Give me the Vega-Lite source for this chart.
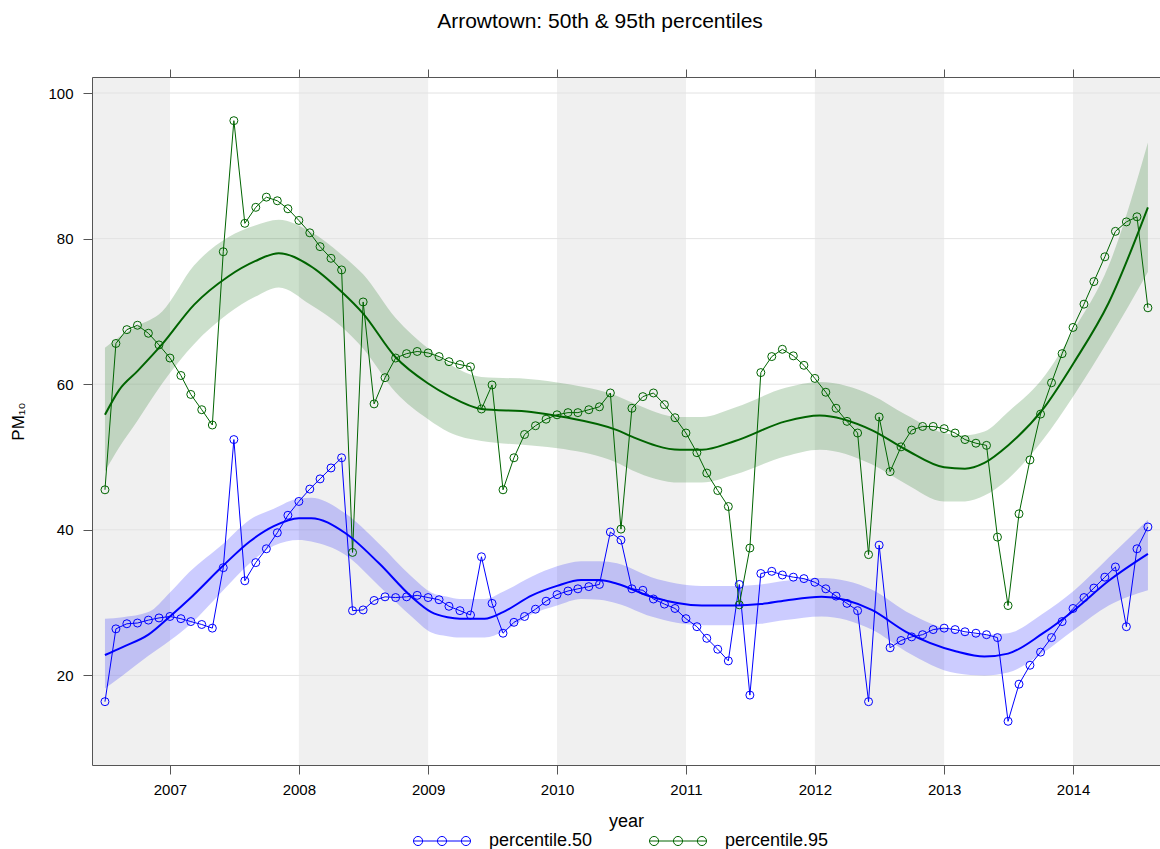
{
"$schema": "https://vega.github.io/schema/vega-lite/v6.json",
"width": 1068, "height": 688,
"autosize": {"type": "none"},
"padding": {"left": 92, "top": 77, "right": 0, "bottom": 84},
"background": "white",
"title": {"text": "Arrowtown: 50th & 95th percentiles", "fontSize": 21, "fontWeight": "normal", "color": "black", "font": "Liberation Sans", "anchor": "middle", "frame": "group", "dx": -26, "offset": 37},
"config": {"view": {"stroke": null}, "font": "Liberation Sans"},
"resolve": {"axis": {"x": "independent"}, "legend": {"color": "independent"}},
"datasets": {
"bands": [
{"start": "2006-01-01", "end": "2007-01-01"},
{"start": "2008-01-01", "end": "2009-01-01"},
{"start": "2010-01-01", "end": "2011-01-01"},
{"start": "2012-01-01", "end": "2013-01-01"},
{"start": "2014-01-01", "end": "2015-01-01"}
],
"grid": [{"v": 20}, {"v": 40}, {"v": 60}, {"v": 80}, {"v": 100}],
"raw": [
{"date":"2006-07-01","series":"percentile.50","value":16.4},
{"date":"2006-08-01","series":"percentile.50","value":26.4},
{"date":"2006-09-01","series":"percentile.50","value":27.1},
{"date":"2006-10-01","series":"percentile.50","value":27.2},
{"date":"2006-11-01","series":"percentile.50","value":27.6},
{"date":"2006-12-01","series":"percentile.50","value":27.9},
{"date":"2007-01-01","series":"percentile.50","value":28.1},
{"date":"2007-02-01","series":"percentile.50","value":27.8},
{"date":"2007-03-01","series":"percentile.50","value":27.4},
{"date":"2007-04-01","series":"percentile.50","value":27.0},
{"date":"2007-05-01","series":"percentile.50","value":26.5},
{"date":"2007-06-01","series":"percentile.50","value":34.8},
{"date":"2007-07-01","series":"percentile.50","value":52.4},
{"date":"2007-08-01","series":"percentile.50","value":33.0},
{"date":"2007-09-01","series":"percentile.50","value":35.5},
{"date":"2007-10-01","series":"percentile.50","value":37.4},
{"date":"2007-11-01","series":"percentile.50","value":39.6},
{"date":"2007-12-01","series":"percentile.50","value":42.0},
{"date":"2008-01-01","series":"percentile.50","value":43.9},
{"date":"2008-02-01","series":"percentile.50","value":45.6},
{"date":"2008-03-01","series":"percentile.50","value":47.0},
{"date":"2008-04-01","series":"percentile.50","value":48.5},
{"date":"2008-05-01","series":"percentile.50","value":49.9},
{"date":"2008-06-01","series":"percentile.50","value":28.9},
{"date":"2008-07-01","series":"percentile.50","value":29.0},
{"date":"2008-08-01","series":"percentile.50","value":30.3},
{"date":"2008-09-01","series":"percentile.50","value":30.8},
{"date":"2008-10-01","series":"percentile.50","value":30.7},
{"date":"2008-11-01","series":"percentile.50","value":30.8},
{"date":"2008-12-01","series":"percentile.50","value":31.0},
{"date":"2009-01-01","series":"percentile.50","value":30.7},
{"date":"2009-02-01","series":"percentile.50","value":30.4},
{"date":"2009-03-01","series":"percentile.50","value":29.5},
{"date":"2009-04-01","series":"percentile.50","value":28.9},
{"date":"2009-05-01","series":"percentile.50","value":28.3},
{"date":"2009-06-01","series":"percentile.50","value":36.3},
{"date":"2009-07-01","series":"percentile.50","value":29.9},
{"date":"2009-08-01","series":"percentile.50","value":25.8},
{"date":"2009-09-01","series":"percentile.50","value":27.3},
{"date":"2009-10-01","series":"percentile.50","value":28.1},
{"date":"2009-11-01","series":"percentile.50","value":29.1},
{"date":"2009-12-01","series":"percentile.50","value":30.2},
{"date":"2010-01-01","series":"percentile.50","value":31.1},
{"date":"2010-02-01","series":"percentile.50","value":31.6},
{"date":"2010-03-01","series":"percentile.50","value":31.9},
{"date":"2010-04-01","series":"percentile.50","value":32.2},
{"date":"2010-05-01","series":"percentile.50","value":32.5},
{"date":"2010-06-01","series":"percentile.50","value":39.7},
{"date":"2010-07-01","series":"percentile.50","value":38.6},
{"date":"2010-08-01","series":"percentile.50","value":31.9},
{"date":"2010-09-01","series":"percentile.50","value":31.7},
{"date":"2010-10-01","series":"percentile.50","value":30.5},
{"date":"2010-11-01","series":"percentile.50","value":29.8},
{"date":"2010-12-01","series":"percentile.50","value":29.2},
{"date":"2011-01-01","series":"percentile.50","value":27.8},
{"date":"2011-02-01","series":"percentile.50","value":26.7},
{"date":"2011-03-01","series":"percentile.50","value":25.1},
{"date":"2011-04-01","series":"percentile.50","value":23.6},
{"date":"2011-05-01","series":"percentile.50","value":22.0},
{"date":"2011-06-01","series":"percentile.50","value":32.5},
{"date":"2011-07-01","series":"percentile.50","value":17.3},
{"date":"2011-08-01","series":"percentile.50","value":34.0},
{"date":"2011-09-01","series":"percentile.50","value":34.3},
{"date":"2011-10-01","series":"percentile.50","value":33.8},
{"date":"2011-11-01","series":"percentile.50","value":33.5},
{"date":"2011-12-01","series":"percentile.50","value":33.3},
{"date":"2012-01-01","series":"percentile.50","value":32.8},
{"date":"2012-02-01","series":"percentile.50","value":31.9},
{"date":"2012-03-01","series":"percentile.50","value":30.9},
{"date":"2012-04-01","series":"percentile.50","value":29.9},
{"date":"2012-05-01","series":"percentile.50","value":28.9},
{"date":"2012-06-01","series":"percentile.50","value":16.4},
{"date":"2012-07-01","series":"percentile.50","value":37.9},
{"date":"2012-08-01","series":"percentile.50","value":23.8},
{"date":"2012-09-01","series":"percentile.50","value":24.8},
{"date":"2012-10-01","series":"percentile.50","value":25.3},
{"date":"2012-11-01","series":"percentile.50","value":25.6},
{"date":"2012-12-01","series":"percentile.50","value":26.3},
{"date":"2013-01-01","series":"percentile.50","value":26.5},
{"date":"2013-02-01","series":"percentile.50","value":26.3},
{"date":"2013-03-01","series":"percentile.50","value":26.0},
{"date":"2013-04-01","series":"percentile.50","value":25.8},
{"date":"2013-05-01","series":"percentile.50","value":25.6},
{"date":"2013-06-01","series":"percentile.50","value":25.2},
{"date":"2013-07-01","series":"percentile.50","value":13.7},
{"date":"2013-08-01","series":"percentile.50","value":18.8},
{"date":"2013-09-01","series":"percentile.50","value":21.4},
{"date":"2013-10-01","series":"percentile.50","value":23.2},
{"date":"2013-11-01","series":"percentile.50","value":25.2},
{"date":"2013-12-01","series":"percentile.50","value":27.4},
{"date":"2014-01-01","series":"percentile.50","value":29.2},
{"date":"2014-02-01","series":"percentile.50","value":30.7},
{"date":"2014-03-01","series":"percentile.50","value":32.0},
{"date":"2014-04-01","series":"percentile.50","value":33.5},
{"date":"2014-05-01","series":"percentile.50","value":34.9},
{"date":"2014-06-01","series":"percentile.50","value":26.7},
{"date":"2014-07-01","series":"percentile.50","value":37.4},
{"date":"2014-08-01","series":"percentile.50","value":40.4},
{"date":"2006-07-01","series":"percentile.95","value":45.5},
{"date":"2006-08-01","series":"percentile.95","value":65.6},
{"date":"2006-09-01","series":"percentile.95","value":67.5},
{"date":"2006-10-01","series":"percentile.95","value":68.1},
{"date":"2006-11-01","series":"percentile.95","value":67.0},
{"date":"2006-12-01","series":"percentile.95","value":65.4},
{"date":"2007-01-01","series":"percentile.95","value":63.6},
{"date":"2007-02-01","series":"percentile.95","value":61.2},
{"date":"2007-03-01","series":"percentile.95","value":58.6},
{"date":"2007-04-01","series":"percentile.95","value":56.5},
{"date":"2007-05-01","series":"percentile.95","value":54.4},
{"date":"2007-06-01","series":"percentile.95","value":78.2},
{"date":"2007-07-01","series":"percentile.95","value":96.2},
{"date":"2007-08-01","series":"percentile.95","value":82.1},
{"date":"2007-09-01","series":"percentile.95","value":84.3},
{"date":"2007-10-01","series":"percentile.95","value":85.7},
{"date":"2007-11-01","series":"percentile.95","value":85.2},
{"date":"2007-12-01","series":"percentile.95","value":84.1},
{"date":"2008-01-01","series":"percentile.95","value":82.5},
{"date":"2008-02-01","series":"percentile.95","value":80.8},
{"date":"2008-03-01","series":"percentile.95","value":78.9},
{"date":"2008-04-01","series":"percentile.95","value":77.3},
{"date":"2008-05-01","series":"percentile.95","value":75.7},
{"date":"2008-06-01","series":"percentile.95","value":36.9},
{"date":"2008-07-01","series":"percentile.95","value":71.3},
{"date":"2008-08-01","series":"percentile.95","value":57.3},
{"date":"2008-09-01","series":"percentile.95","value":60.9},
{"date":"2008-10-01","series":"percentile.95","value":63.6},
{"date":"2008-11-01","series":"percentile.95","value":64.2},
{"date":"2008-12-01","series":"percentile.95","value":64.5},
{"date":"2009-01-01","series":"percentile.95","value":64.3},
{"date":"2009-02-01","series":"percentile.95","value":63.8},
{"date":"2009-03-01","series":"percentile.95","value":63.1},
{"date":"2009-04-01","series":"percentile.95","value":62.7},
{"date":"2009-05-01","series":"percentile.95","value":62.4},
{"date":"2009-06-01","series":"percentile.95","value":56.6},
{"date":"2009-07-01","series":"percentile.95","value":59.9},
{"date":"2009-08-01","series":"percentile.95","value":45.5},
{"date":"2009-09-01","series":"percentile.95","value":49.9},
{"date":"2009-10-01","series":"percentile.95","value":53.1},
{"date":"2009-11-01","series":"percentile.95","value":54.3},
{"date":"2009-12-01","series":"percentile.95","value":55.2},
{"date":"2010-01-01","series":"percentile.95","value":55.8},
{"date":"2010-02-01","series":"percentile.95","value":56.1},
{"date":"2010-03-01","series":"percentile.95","value":56.1},
{"date":"2010-04-01","series":"percentile.95","value":56.5},
{"date":"2010-05-01","series":"percentile.95","value":56.9},
{"date":"2010-06-01","series":"percentile.95","value":58.8},
{"date":"2010-07-01","series":"percentile.95","value":40.1},
{"date":"2010-08-01","series":"percentile.95","value":56.7},
{"date":"2010-09-01","series":"percentile.95","value":58.3},
{"date":"2010-10-01","series":"percentile.95","value":58.8},
{"date":"2010-11-01","series":"percentile.95","value":57.2},
{"date":"2010-12-01","series":"percentile.95","value":55.4},
{"date":"2011-01-01","series":"percentile.95","value":53.3},
{"date":"2011-02-01","series":"percentile.95","value":50.6},
{"date":"2011-03-01","series":"percentile.95","value":47.8},
{"date":"2011-04-01","series":"percentile.95","value":45.4},
{"date":"2011-05-01","series":"percentile.95","value":43.2},
{"date":"2011-06-01","series":"percentile.95","value":29.7},
{"date":"2011-07-01","series":"percentile.95","value":37.5},
{"date":"2011-08-01","series":"percentile.95","value":61.6},
{"date":"2011-09-01","series":"percentile.95","value":63.8},
{"date":"2011-10-01","series":"percentile.95","value":64.8},
{"date":"2011-11-01","series":"percentile.95","value":63.9},
{"date":"2011-12-01","series":"percentile.95","value":62.6},
{"date":"2012-01-01","series":"percentile.95","value":60.8},
{"date":"2012-02-01","series":"percentile.95","value":58.9},
{"date":"2012-03-01","series":"percentile.95","value":56.7},
{"date":"2012-04-01","series":"percentile.95","value":54.9},
{"date":"2012-05-01","series":"percentile.95","value":53.3},
{"date":"2012-06-01","series":"percentile.95","value":36.6},
{"date":"2012-07-01","series":"percentile.95","value":55.5},
{"date":"2012-08-01","series":"percentile.95","value":48.0},
{"date":"2012-09-01","series":"percentile.95","value":51.4},
{"date":"2012-10-01","series":"percentile.95","value":53.7},
{"date":"2012-11-01","series":"percentile.95","value":54.2},
{"date":"2012-12-01","series":"percentile.95","value":54.2},
{"date":"2013-01-01","series":"percentile.95","value":53.9},
{"date":"2013-02-01","series":"percentile.95","value":53.3},
{"date":"2013-03-01","series":"percentile.95","value":52.4},
{"date":"2013-04-01","series":"percentile.95","value":51.9},
{"date":"2013-05-01","series":"percentile.95","value":51.6},
{"date":"2013-06-01","series":"percentile.95","value":39.0},
{"date":"2013-07-01","series":"percentile.95","value":29.6},
{"date":"2013-08-01","series":"percentile.95","value":42.2},
{"date":"2013-09-01","series":"percentile.95","value":49.6},
{"date":"2013-10-01","series":"percentile.95","value":55.9},
{"date":"2013-11-01","series":"percentile.95","value":60.2},
{"date":"2013-12-01","series":"percentile.95","value":64.2},
{"date":"2014-01-01","series":"percentile.95","value":67.8},
{"date":"2014-02-01","series":"percentile.95","value":71.0},
{"date":"2014-03-01","series":"percentile.95","value":74.1},
{"date":"2014-04-01","series":"percentile.95","value":77.5},
{"date":"2014-05-01","series":"percentile.95","value":81.0},
{"date":"2014-06-01","series":"percentile.95","value":82.3},
{"date":"2014-07-01","series":"percentile.95","value":83.0},
{"date":"2014-08-01","series":"percentile.95","value":70.5}
],
"smooth": [
{"date":"2006-07-01","series":"percentile.50","fit":22.8,"lo":18.2,"hi":27.8},
{"date":"2006-08-20","series":"percentile.50","fit":23.9,"lo":20.0,"hi":28.0},
{"date":"2006-11-01","series":"percentile.50","fit":25.6,"lo":22.7,"hi":28.7},
{"date":"2007-01-01","series":"percentile.50","fit":28.1,"lo":24.8,"hi":31.4},
{"date":"2007-02-25","series":"percentile.50","fit":30.5,"lo":26.9,"hi":34.2},
{"date":"2007-06-01","series":"percentile.50","fit":35.1,"lo":31.7,"hi":38.1},
{"date":"2007-08-15","series":"percentile.50","fit":38.4,"lo":35.4,"hi":41.4},
{"date":"2007-10-22","series":"percentile.50","fit":40.5,"lo":37.8,"hi":42.9},
{"date":"2008-01-01","series":"percentile.50","fit":41.6,"lo":38.6,"hi":44.3},
{"date":"2008-02-05","series":"percentile.50","fit":41.6,"lo":38.4,"hi":44.4},
{"date":"2008-05-10","series":"percentile.50","fit":39.6,"lo":36.6,"hi":42.3},
{"date":"2008-08-15","series":"percentile.50","fit":35.4,"lo":32.3,"hi":38.1},
{"date":"2008-11-15","series":"percentile.50","fit":30.8,"lo":28.1,"hi":33.6},
{"date":"2009-01-10","series":"percentile.50","fit":28.7,"lo":25.9,"hi":31.4},
{"date":"2009-02-25","series":"percentile.50","fit":28.0,"lo":25.4,"hi":30.8},
{"date":"2009-04-01","series":"percentile.50","fit":27.8,"lo":25.2,"hi":30.5},
{"date":"2009-06-10","series":"percentile.50","fit":27.8,"lo":25.2,"hi":30.5},
{"date":"2009-08-01","series":"percentile.50","fit":28.7,"lo":26.0,"hi":31.5},
{"date":"2009-10-22","series":"percentile.50","fit":31.0,"lo":28.4,"hi":33.6},
{"date":"2010-01-01","series":"percentile.50","fit":32.3,"lo":29.6,"hi":35.0},
{"date":"2010-03-10","series":"percentile.50","fit":33.1,"lo":30.5,"hi":35.7},
{"date":"2010-05-01","series":"percentile.50","fit":33.1,"lo":30.4,"hi":35.7},
{"date":"2010-06-20","series":"percentile.50","fit":32.6,"lo":29.9,"hi":35.4},
{"date":"2010-09-25","series":"percentile.50","fit":30.8,"lo":28.1,"hi":33.5},
{"date":"2011-02-15","series":"percentile.50","fit":29.6,"lo":26.9,"hi":32.3},
{"date":"2011-05-20","series":"percentile.50","fit":29.6,"lo":26.9,"hi":32.3},
{"date":"2011-08-01","series":"percentile.50","fit":29.8,"lo":27.1,"hi":32.5},
{"date":"2011-10-10","series":"percentile.50","fit":30.3,"lo":27.6,"hi":33.0},
{"date":"2012-01-20","series":"percentile.50","fit":30.8,"lo":28.1,"hi":33.4},
{"date":"2012-06-10","series":"percentile.50","fit":29.0,"lo":26.3,"hi":31.8},
{"date":"2012-09-15","series":"percentile.50","fit":26.0,"lo":23.3,"hi":28.8},
{"date":"2013-02-05","series":"percentile.50","fit":23.3,"lo":20.3,"hi":26.0},
{"date":"2013-04-25","series":"percentile.50","fit":22.6,"lo":20.0,"hi":25.6},
{"date":"2013-07-01","series":"percentile.50","fit":23.0,"lo":20.4,"hi":25.8},
{"date":"2013-10-05","series":"percentile.50","fit":25.7,"lo":23.0,"hi":28.4},
{"date":"2014-01-05","series":"percentile.50","fit":29.0,"lo":26.3,"hi":31.7},
{"date":"2014-04-12","series":"percentile.50","fit":33.0,"lo":29.6,"hi":36.2},
{"date":"2014-08-01","series":"percentile.50","fit":36.7,"lo":31.7,"hi":41.4},
{"date":"2006-07-01","series":"percentile.95","fit":55.8,"lo":48.0,"hi":65.0},
{"date":"2006-08-10","series":"percentile.95","fit":59.2,"lo":51.3,"hi":66.5},
{"date":"2006-10-01","series":"percentile.95","fit":61.8,"lo":55.0,"hi":68.0},
{"date":"2006-12-10","series":"percentile.95","fit":65.5,"lo":60.1,"hi":70.0},
{"date":"2007-03-10","series":"percentile.95","fit":70.9,"lo":65.5,"hi":76.3},
{"date":"2007-06-15","series":"percentile.95","fit":74.8,"lo":69.7,"hi":80.2},
{"date":"2007-08-30","series":"percentile.95","fit":76.9,"lo":72.0,"hi":81.8},
{"date":"2007-11-05","series":"percentile.95","fit":78.0,"lo":73.3,"hi":82.6},
{"date":"2008-02-01","series":"percentile.95","fit":76.3,"lo":71.0,"hi":81.0},
{"date":"2008-05-01","series":"percentile.95","fit":72.7,"lo":67.9,"hi":77.8},
{"date":"2008-07-01","series":"percentile.95","fit":69.7,"lo":64.9,"hi":75.1},
{"date":"2008-10-01","series":"percentile.95","fit":63.7,"lo":58.9,"hi":69.1},
{"date":"2009-01-01","series":"percentile.95","fit":60.1,"lo":55.2,"hi":64.9},
{"date":"2009-03-01","series":"percentile.95","fit":58.4,"lo":53.4,"hi":62.8},
{"date":"2009-06-01","series":"percentile.95","fit":56.6,"lo":52.2,"hi":61.0},
{"date":"2009-10-20","series":"percentile.95","fit":56.2,"lo":51.6,"hi":60.7},
{"date":"2010-01-20","series":"percentile.95","fit":55.5,"lo":51.1,"hi":60.1},
{"date":"2010-06-20","series":"percentile.95","fit":53.7,"lo":49.2,"hi":58.4},
{"date":"2010-08-01","series":"percentile.95","fit":52.8,"lo":48.2,"hi":57.5},
{"date":"2010-12-15","series":"percentile.95","fit":51.0,"lo":46.5,"hi":55.5},
{"date":"2011-02-15","series":"percentile.95","fit":51.0,"lo":46.5,"hi":55.5},
{"date":"2011-05-20","series":"percentile.95","fit":52.2,"lo":47.6,"hi":56.8},
{"date":"2011-10-10","series":"percentile.95","fit":54.9,"lo":50.1,"hi":59.5},
{"date":"2012-01-15","series":"percentile.95","fit":55.7,"lo":51.0,"hi":60.3},
{"date":"2012-06-10","series":"percentile.95","fit":53.7,"lo":49.0,"hi":58.5},
{"date":"2012-09-15","series":"percentile.95","fit":51.0,"lo":46.3,"hi":55.8},
{"date":"2013-01-01","series":"percentile.95","fit":48.6,"lo":43.9,"hi":53.3},
{"date":"2013-03-01","series":"percentile.95","fit":48.4,"lo":43.9,"hi":53.0},
{"date":"2013-04-25","series":"percentile.95","fit":49.2,"lo":44.7,"hi":53.5},
{"date":"2013-07-01","series":"percentile.95","fit":51.6,"lo":47.0,"hi":56.2},
{"date":"2013-10-05","series":"percentile.95","fit":56.4,"lo":52.2,"hi":60.7},
{"date":"2014-01-05","series":"percentile.95","fit":63.1,"lo":58.6,"hi":67.6},
{"date":"2014-04-12","series":"percentile.95","fit":71.2,"lo":66.1,"hi":76.3},
{"date":"2014-08-01","series":"percentile.95","fit":84.3,"lo":75.4,"hi":93.2}
]
},
"layer": [
{
"data": {"name": "bands"},
"mark": {"type": "rect", "color": "#f0f0f0", "clip": true},
"encoding": {
"x": {"field": "start", "type": "temporal", "scale": {"type": "utc", "domain": [1148541120000, 1409806080000]},
"axis": {"orient": "top", "labels": false, "title": null, "grid": false, "zindex": 2, "tickCount": {"interval": "year", "step": 1}, "tickSize": 8, "tickColor": "#555", "domainColor": "#555"}},
"x2": {"field": "end"}
}
},
{
"data": {"name": "grid"},
"mark": {"type": "rule", "color": "#e3e3e3", "strokeWidth": 1},
"encoding": {
"y": {"field": "v", "type": "quantitative", "title": "PM₁₀", "scale": {"domain": [7.7, 102.2], "nice": false, "zero": false},
"axis": {"values": [20, 40, 60, 80, 100], "grid": false, "zindex": 2, "tickSize": 9, "tickColor": "#555", "domainColor": "#555", "labelFontSize": 15, "labelColor": "black", "labelPadding": 10, "titleFontSize": 17, "titleFontWeight": "normal", "titleColor": "black", "titlePadding": 20}}
}
},
{
"data": {"name": "smooth"},
"mark": {"type": "area", "opacity": 0.2, "interpolate": "monotone"},
"encoding": {
"x": {"field": "date", "type": "temporal", "scale": {"type": "utc", "domain": [1148541120000, 1409806080000]}, "axis": null},
"y": {"field": "lo", "type": "quantitative", "title": "PM₁₀"},
"y2": {"field": "hi"},
"color": {"field": "series", "type": "nominal", "scale": {"domain": ["percentile.50", "percentile.95"], "range": ["#0000ff", "#006400"]}, "legend": null}
}
},
{
"data": {"name": "raw"},
"mark": {"type": "line", "strokeWidth": 1},
"encoding": {
"x": {"field": "date", "type": "temporal", "scale": {"type": "utc", "domain": [1148541120000, 1409806080000]},
"axis": {"orient": "bottom", "format": "%Y", "tickCount": {"interval": "year", "step": 1}, "title": "year", "grid": false, "zindex": 2, "tickSize": 9, "tickColor": "#555", "domainColor": "#555", "labelFontSize": 15, "labelColor": "black", "labelPadding": 8, "titleFontSize": 18, "titleFontWeight": "normal", "titleColor": "black", "titlePadding": 15}},
"y": {"field": "value", "type": "quantitative", "title": "PM₁₀"},
"color": {"field": "series", "type": "nominal", "scale": {"domain": ["percentile.50", "percentile.95"], "range": ["#0000ff", "#006400"]}, "legend": null}
}
},
{
"data": {"name": "raw"},
"mark": {"type": "point", "shape": "circle", "filled": false, "size": 64, "strokeWidth": 1, "opacity": 1},
"encoding": {
"x": {"field": "date", "type": "temporal", "scale": {"type": "utc", "domain": [1148541120000, 1409806080000]}, "axis": null},
"y": {"field": "value", "type": "quantitative", "title": "PM₁₀"},
"color": {"field": "series", "type": "nominal", "scale": {"domain": ["percentile.50", "percentile.95"], "range": ["#0000ff", "#006400"]},
"legend": {"orient": "none", "legendX": 321, "legendY": 735, "direction": "horizontal", "title": null,
"symbolType": "M-1,0L1,0M-0.68,0A0.16,0.16,0,1,1,-1,0A0.16,0.16,0,1,1,-0.68,0M0.16,0A0.16,0.16,0,1,1,-0.16,0A0.16,0.16,0,1,1,0.16,0M1,0A0.16,0.16,0,1,1,0.68,0A0.16,0.16,0,1,1,1,0",
"symbolSize": 3249, "symbolStrokeWidth": 1, "labelFontSize": 18, "labelOffset": 18, "columnPadding": 54, "labelColor": "black", "labelFont": "Liberation Sans"}}
}
},
{
"data": {"name": "smooth"},
"mark": {"type": "line", "strokeWidth": 2, "interpolate": "monotone"},
"encoding": {
"x": {"field": "date", "type": "temporal", "scale": {"type": "utc", "domain": [1148541120000, 1409806080000]}, "axis": null},
"y": {"field": "fit", "type": "quantitative", "title": "PM₁₀"},
"color": {"field": "series", "type": "nominal", "scale": {"domain": ["percentile.50", "percentile.95"], "range": ["#0000ff", "#006400"]}, "legend": null}
}
}
]
}
